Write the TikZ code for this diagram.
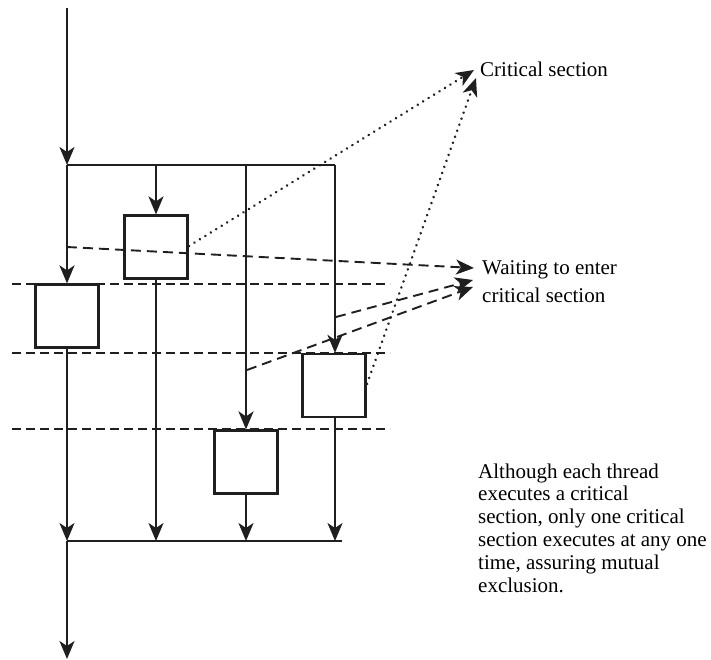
\documentclass[tikz,border=0pt]{standalone}
\usepackage{fontspec}
\setmainfont{Liberation Serif}
\usetikzlibrary{arrows.meta}
\begin{document}
\begin{tikzpicture}[x=1pt,y=-1pt,
  flow/.style={line width=2.2pt, draw=black!88},
  tip/.style={-{Stealth[length=18pt,width=15pt,inset=5pt]}},
  csbox/.style={draw=black!88, line width=2.2pt, minimum width=63pt, minimum height=63pt, inner sep=0pt, fill=white},
  level/.style={draw=black!88, line width=1.9pt, dash pattern=on 9pt off 5pt},
  wait/.style={draw=black!88, line width=1.9pt, dash pattern=on 10pt off 6pt},
  crit/.style={draw=black!88, line width=2.7pt, line cap=round, dash pattern=on 0.1pt off 6.3pt},
  lbl/.style={font=\fontsize{21}{28}\selectfont, inner sep=0pt, align=left},
  para/.style={font=\fontsize{21}{22.8}\selectfont, inner sep=0pt, align=left}]
\useasboundingbox (0,0) rectangle (711,660);

% stage boundaries
\coordinate (l1a) at (12,284);  \coordinate (l1b) at (390,284);
\coordinate (l2a) at (12,353);  \coordinate (l2b) at (390,353);
\coordinate (l3a) at (12,429);  \coordinate (l3b) at (390,429);
\draw[level] (l1a) -- (l1b);
\draw[level] (l2a) -- (l2b);
\draw[level] (l3a) -- (l3b);

% fork / join points
\coordinate (start) at (67,8);
\coordinate (fork1) at (67,165);
\coordinate (fork2) at (156,165);
\coordinate (fork3) at (246,165);
\coordinate (fork4) at (335,165);
\coordinate (join1) at (67,541);
\coordinate (join2) at (156,541);
\coordinate (join3) at (246,541);
\coordinate (join4) at (335,541);
\coordinate (joinend) at (342,541);
\coordinate (finish) at (67,659);

% critical sections
\node[csbox] (b1) at (67,316) {};
\node[csbox] (b2) at (156,247) {};
\node[csbox] (b3) at (334,385.5) {};
\node[csbox] (b4) at (246,462) {};

% threads
\draw[flow,tip] (start) -- (fork1);
\draw[flow] (fork1) -- (fork4);
\draw[flow,tip] (fork1) -- (b1.north);
\draw[flow,tip] (fork2) -- (b2.north);
\draw[flow,tip] (fork3) -- (b4.north);
\draw[flow,tip] (fork4) -- (b3.north -| fork4);
\draw[flow,tip] (b1.south) -- (join1);
\draw[flow,tip] (b2.south) -- (join2);
\draw[flow,tip] (b4.south) -- (join3);
\draw[flow,tip] (b3.south -| fork4) -- (join4);
\draw[flow] (join1) -- (joinend);
\draw[flow,tip] (join1) -- (finish);

% labels (base anchor sits on the last line)
\node[lbl, anchor=base west] (cs) at (480,77) {Critical section};
\node[lbl, anchor=base west] (wt) at (482,302) {Waiting to enter\\critical section};
\node[para, anchor=base west] (note) at (478,592) {Although each thread\\executes a critical\\section, only one critical\\section executes at any one\\time, assuring mutual\\exclusion.};

% waiting threads
\coordinate (w1) at (67,247);
\coordinate (w2) at (336,317);
\coordinate (w3) at (247,370);
\coordinate (wt1) at (474,268);
\coordinate (wt2) at (473,280);
\coordinate (wt3) at (473,287);
\draw[wait,tip] (w1) -- (wt1);
\draw[wait,tip] (w2) -- (wt2);
\draw[wait,tip] (w3) -- (wt3);

% threads inside their critical sections
\coordinate (c1) at (189,246);
\coordinate (c2) at (367,384);
\coordinate (ct1) at (474,70);
\coordinate (ct2) at (476,78);
\draw[crit,tip] (c1) -- (ct1);
\draw[crit,tip] (c2) -- (ct2);
\end{tikzpicture}
\end{document}
